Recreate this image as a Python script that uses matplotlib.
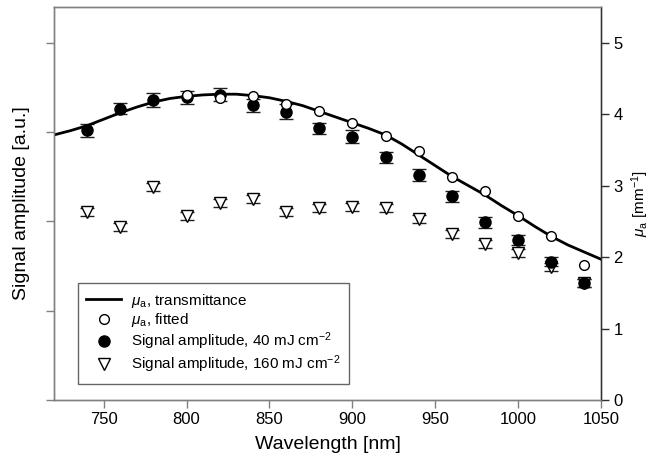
import matplotlib
matplotlib.use('Agg')
import matplotlib.pyplot as plt
from matplotlib.lines import Line2D

plt.rcParams['font.family'] = ['Liberation Sans', 'DejaVu Sans']
plt.rcParams['mathtext.fontset'] = 'custom'
plt.rcParams['mathtext.rm'] = 'Liberation Sans'
plt.rcParams['mathtext.it'] = 'Liberation Sans:italic'

# transmittance spectrum (mu_a, right axis)
wl_line = [720, 730, 740, 750, 760, 770, 780, 790, 800, 810, 820, 830, 840, 850, 860, 870,
           880, 890, 900, 910, 920, 930, 940, 950, 960, 970, 980, 990, 1000, 1010, 1020,
           1030, 1040, 1050]
mua_line = [3.71, 3.77, 3.84, 3.93, 4.02, 4.10, 4.17, 4.22, 4.25, 4.27, 4.28, 4.28, 4.26,
            4.23, 4.18, 4.12, 4.04, 3.96, 3.88, 3.80, 3.71, 3.58, 3.43, 3.28, 3.13, 3.00,
            2.87, 2.72, 2.58, 2.43, 2.29, 2.17, 2.07, 1.97]

# fitted mu_a (right axis)
wl_fit = [800, 820, 840, 860, 880, 900, 920, 940, 960, 980, 1000, 1020, 1040]
mua_fit = [4.27, 4.22, 4.26, 4.14, 4.05, 3.88, 3.69, 3.49, 3.12, 2.92, 2.58, 2.29, 1.89]

# signal amplitudes (left axis, a.u.)
wl_sig = [740, 760, 780, 800, 820, 840, 860, 880, 900, 920, 940, 960, 980, 1000, 1020, 1040]
sig40 = [3.02, 3.26, 3.36, 3.39, 3.42, 3.30, 3.23, 3.04, 2.95, 2.72, 2.52, 2.28, 1.99,
         1.79, 1.55, 1.31]
err40 = [0.075, 0.06, 0.075, 0.075, 0.075, 0.075, 0.08, 0.065, 0.07, 0.062, 0.064, 0.06,
         0.06, 0.06, 0.05, 0.04]
sig160 = [2.10, 1.94, 2.38, 2.06, 2.21, 2.25, 2.11, 2.15, 2.16, 2.15, 2.03, 1.86, 1.75,
          1.65, 1.49, 1.31]
err160 = [0.045, 0.045, 0.045, 0.045, 0.045, 0.045, 0.045, 0.045, 0.045, 0.045, 0.045,
          0.045, 0.045, 0.045, 0.045, 0.04]

fig = plt.figure(figsize=(6.6, 4.68), dpi=100)
ax = fig.add_axes([0.0818, 0.1453, 0.8288, 0.8397])
ax2 = ax.twinx()

ax.errorbar(wl_sig, sig160, yerr=err160, fmt='v', color='black', mfc='white', mec='black',
            ms=8, mew=1.0, ecolor='#202020', elinewidth=1.0, capsize=5, capthick=1.0, zorder=3)
ax.errorbar(wl_sig, sig40, yerr=err40, fmt='o', color='black', mfc='black', mec='black',
            ms=8, ecolor='#202020', elinewidth=1.0, capsize=5, capthick=1.0, zorder=4)

ax2.plot(wl_line, mua_line, color='black', lw=2, zorder=2)
ax2.plot(wl_fit, mua_fit, 'o', mfc='white', mec='black', ms=7, mew=1.0, zorder=3)

ax.set_xlim(720, 1050)
ax.set_ylim(0, 4.4)
ax2.set_ylim(0, 5.5)
ax.set_xticks([750, 800, 850, 900, 950, 1000, 1050])
ax.set_yticks([0, 1, 2, 3, 4])
ax.set_yticklabels([])
ax2.set_yticks([0, 1, 2, 3, 4, 5])

for a in (ax, ax2):
    for s in a.spines.values():
        s.set_color('#808080')
        s.set_linewidth(1.0)
ax2.spines['right'].set_color('#303030')
ax.tick_params(axis='both', direction='out', length=6, width=1, color='#808080',
               labelsize=12)
ax2.tick_params(axis='y', direction='out', length=6, width=1, color='#303030',
                labelsize=12, pad=3)
ax.tick_params(axis='x', pad=3)

ax.set_xlabel('Wavelength [nm]', fontsize=14, labelpad=6)
ax.set_ylabel('Signal amplitude [a.u.]', fontsize=14, labelpad=8)
ax2.set_ylabel(r'$\mu_\mathrm{a}$ [mm$^{-1}$]', fontsize=11, labelpad=5)

handles = [
    Line2D([], [], color='black', lw=2),
    Line2D([], [], ls='none', marker='o', mfc='white', mec='black', ms=7),
    Line2D([], [], ls='none', marker='o', mfc='black', mec='black', ms=8),
    Line2D([], [], ls='none', marker='v', mfc='white', mec='black', ms=8),
]
labels = [
    r'$\mu_\mathrm{a}$, transmittance',
    r'$\mu_\mathrm{a}$, fitted',
    r'Signal amplitude, 40 mJ cm$^{-2}$',
    r'Signal amplitude, 160 mJ cm$^{-2}$',
]
leg = ax2.legend(handles, labels, loc='upper left', bbox_to_anchor=(0.118, 0.395),
                 bbox_transform=fig.transFigure,
                 fontsize=11, frameon=True, fancybox=False, borderpad=0.55,
                 borderaxespad=0, handlelength=2.3, handletextpad=0.6,
                 labelspacing=0.1)
leg.get_frame().set_edgecolor('#404040')
leg.get_frame().set_linewidth(1.0)

plt.savefig('out.png', dpi=100)
